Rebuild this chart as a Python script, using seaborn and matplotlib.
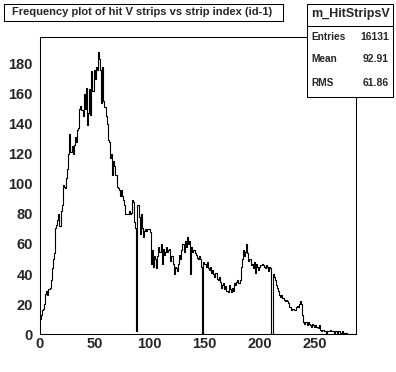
import numpy as np
import pandas as pd
import matplotlib
matplotlib.use("Agg")
import matplotlib.pyplot as plt
from matplotlib.patches import Rectangle
from matplotlib.ticker import MultipleLocator
import seaborn as sns

# ---- data (one value per strip bin) ----
counts = [
    10, 13, 16, 17, 20, 27, 29, 26, 30, 31,
    36, 44, 50, 54, 71, 73, 76, 80, 72, 82,
    86, 99, 98, 97, 104, 110, 120, 133, 121, 125,
    120, 126, 131, 128, 136, 137, 150, 152, 149, 145,
    160, 150, 164, 139, 147, 163, 146, 175, 162, 176,
    170, 178, 176, 188, 183, 176, 154, 178, 155, 151,
    145, 140, 129, 128, 117, 120, 106, 115, 112, 106,
    98, 97, 96, 92, 96, 92, 89, 86, 80, 80,
    80, 82, 80, 81, 89, 88, 75, 71, 2, 86,
    78, 67, 80, 71, 65, 69, 70, 69, 70, 70,
    68, 47, 56, 45, 52, 50, 44, 52, 58, 55,
    60, 47, 57, 53, 55, 58, 55, 56, 57, 49,
    52, 47, 40, 45, 44, 42, 47, 53, 50, 56,
    60, 55, 62, 58, 65, 60, 62, 40, 58, 55,
    56, 54, 53, 51, 50, 52, 50, 45, 0, 48,
    47, 45, 48, 44, 43, 45, 41, 43, 40, 38,
    41, 37, 36, 38, 35, 31, 33, 34, 30, 32,
    29, 28, 33, 30, 28, 31, 29, 34, 33, 35,
    36, 34, 36, 45, 50, 56, 52, 55, 60, 54,
    49, 50, 46, 47, 44, 48, 41, 47, 45, 43,
    45, 46, 47, 46, 45, 44, 46, 45, 42, 45,
    44, 0, 40, 38, 36, 33, 31, 29, 26, 25,
    26, 24, 23, 22, 23, 22, 21, 18, 18, 16,
    17, 17, 16, 18, 19, 18, 20, 22, 20, 13,
    8, 7, 8, 6, 8, 7, 6, 5, 7, 6,
    5, 6, 5, 4, 6, 3, 2, 3, 3, 2,
    2, 1, 2, 2, 3, 2, 2, 2, 1, 2,
    2, 1, 2, 1, 1, 2, 1, 1, 0, 1,
    0, 0, 0, 0, 0, 0, 0, 0,
]
strip_index = list(range(len(counts)))
x_tick_labels = ["0", "50", "100", "150", "200", "250"]
y_tick_labels = ["0", "20", "40", "60", "80", "100", "120", "140", "160", "180"]

title_text = "Frequency plot of hit V strips vs strip index (id-1)"
stats_name = "m_HitStripsV"
stats_rows = [("Entries", "16131"), ("Mean", "92.91"), ("RMS", "61.86")]

df = pd.DataFrame({"strip": np.array(strip_index, dtype=float) + 0.5,
                   "count": np.array(counts, dtype=float)})

sns.set_style("white")
plt.rcParams["font.family"] = ["Liberation Sans", "DejaVu Sans"]
plt.rcParams["font.weight"] = "bold"

W, H = 396, 372
fig = plt.figure(figsize=(W / 100, H / 100), dpi=100)
fig.patch.set_facecolor("white")
ax = fig.add_axes([39.7 / W, 1 - 334 / H, (356 - 39.7) / W, (334 - 37) / H])

sns.histplot(data=df, x="strip", weights="count", binwidth=1,
             binrange=(0, len(counts)),
             element="step", fill=False, color="black", linewidth=0.8, ax=ax)

ax.set_xlim(0, len(counts))
ax.set_ylim(0, 198)
ax.set_xlabel("")
ax.set_ylabel("")
ax.set_xticks([int(v) for v in x_tick_labels])
ax.set_xticklabels(x_tick_labels)
ax.set_yticks([int(v) for v in y_tick_labels])
ax.set_yticklabels(y_tick_labels)
ax.xaxis.set_minor_locator(MultipleLocator(10))
ax.yaxis.set_minor_locator(MultipleLocator(5))
ax.tick_params(axis="x", which="major", direction="in", length=6.5, width=0.75,
               labelsize=10.5, pad=2, top=False)
ax.tick_params(axis="x", which="minor", direction="in", length=3.2, width=0.75, top=False)
ax.tick_params(axis="y", which="major", direction="in", length=7, width=0.75,
               labelsize=10.5, pad=5, right=False)
ax.tick_params(axis="y", which="minor", direction="in", length=3.5, width=0.75, right=False)
for lab in ax.get_xticklabels() + ax.get_yticklabels():
    lab.set_fontweight("bold")
for s in ax.spines.values():
    s.set_visible(True)
    s.set_linewidth(0.75)
    s.set_color("black")

# Title box
fig.patches.append(Rectangle((3.5 / W, 1 - 21 / H), (282.5 - 3.5) / W, (21 - 3.5) / H,
                             transform=fig.transFigure, facecolor="white",
                             edgecolor="black", linewidth=0.75, zorder=5))
fig.text(142.5 / W, 1 - 12.3 / H, title_text, ha="center", va="center",
         fontsize=8.0, fontweight="bold", zorder=6)

# Stats box
bx0, bx1, by0, by1 = 307, 393, 3.5, 97
fig.patches.append(Rectangle((bx0 / W, 1 - by1 / H), (bx1 - bx0) / W, (by1 - by0) / H,
                             transform=fig.transFigure, facecolor="white",
                             edgecolor="black", linewidth=0.75, zorder=5))
fig.add_artist(plt.Line2D([bx0 / W, bx1 / W], [1 - 25.5 / H, 1 - 25.5 / H],
                          transform=fig.transFigure, color="black", linewidth=0.75, zorder=6))
fig.text((bx0 + bx1) / 2 / W, 1 - 14.5 / H, stats_name, ha="center", va="center",
         fontsize=9, fontweight="bold", zorder=6)
for i, (k, v) in enumerate(stats_rows):
    yy = 1 - (36.5 + 23 * i) / H
    fig.text((bx0 + 4) / W, yy, k, ha="left", va="center", fontsize=7.3,
             fontweight="bold", zorder=6)
    fig.text((bx1 - 4) / W, yy, v, ha="right", va="center", fontsize=7.5,
             fontweight="bold", zorder=6)

fig.savefig("out.png", dpi=100, facecolor="white")
